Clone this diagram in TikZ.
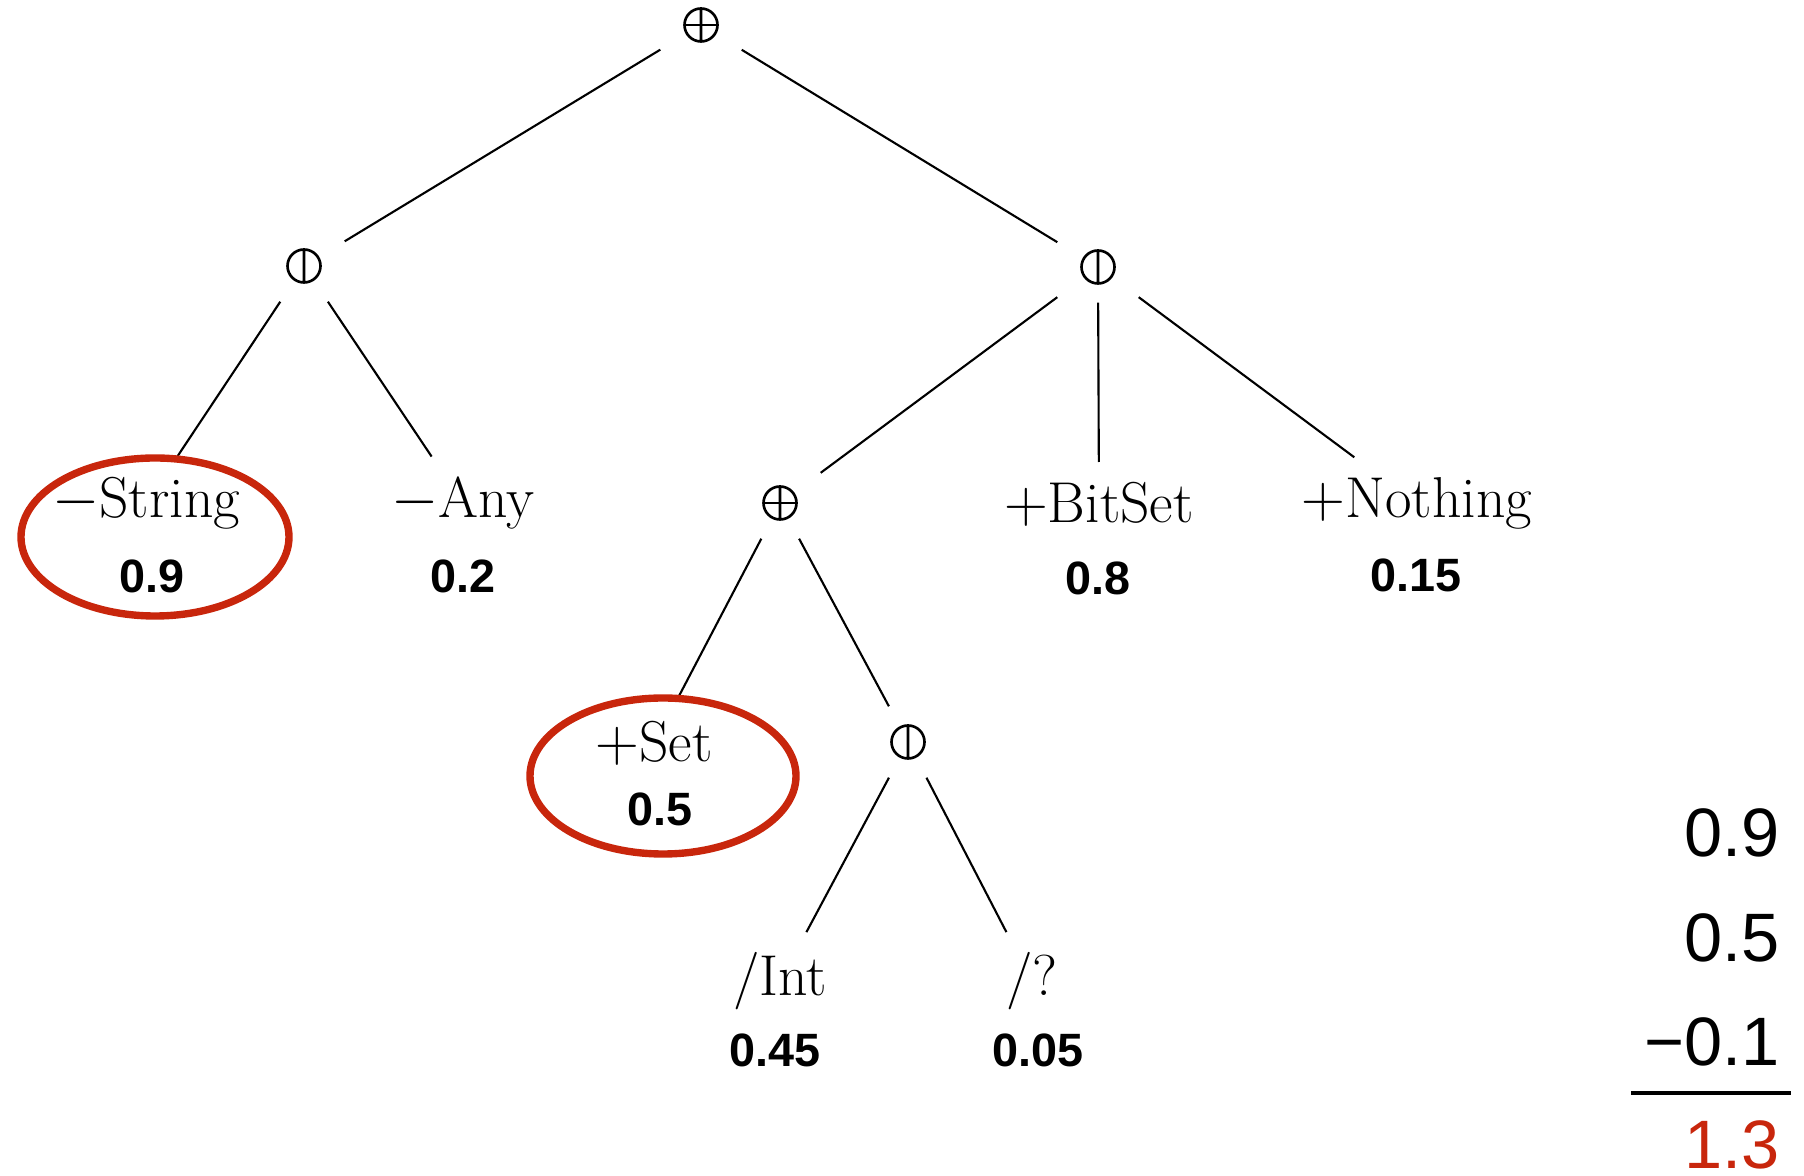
\documentclass[tikz,border=0pt]{standalone}
\usepackage{fontspec}
\usepackage{xcolor}
\usepackage{tikz}
\newfontfamily\valfont{Liberation Sans}
\definecolor{pickred}{RGB}{200,38,12}

\tikzset{
  branch/.style={line width=0.6pt},
  opbox/.style={minimum width=0.8cm,minimum height=0.7cm,inner sep=0pt,
    path picture={
      \coordinate (pp) at (path picture bounding box.center);
      \draw[line width=0.75pt] (pp) circle (0.165cm) (pp) ++(0,0.165) -- ++(0,-0.33);
      #1}},
  oplus/.style={opbox={\draw[line width=0.75pt] (pp) ++(-0.165,0) -- ++(0.33,0);}},
  obar/.style={opbox={}},
  leaf/.style={font=\fontsize{16.4}{19}\selectfont,inner xsep=0.12cm,inner ysep=0.2cm,anchor=base},
  score/.style={font=\valfont\bfseries\fontsize{13.3}{16}\selectfont,anchor=base},
  sumnum/.style={font=\valfont\fontsize{19.5}{23}\selectfont,inner ysep=0pt,anchor=base east},
  pick/.style={draw=pickred,line width=2.1pt}
}

\begin{document}
\begin{tikzpicture}
    \useasboundingbox (0,0) rectangle (18.04,-11.76);

    % operators
    \node[oplus] (root) at (7.01,-0.25) {};
    \node[obar] (lbar) at (3.04,-2.66) {};
    \node[obar] (rbar) at (10.98,-2.67) {};
    \node[oplus] (mplus) at (7.80,-5.03) {};
    \node[obar] (lowbar) at (9.08,-7.42) {};

    % leaves and their weights
    \node[leaf] (str) at (1.46,-5.18) {$-$String};
    \node[score] (str-v) at (1.52,-5.93) {0.9};
    \node[leaf] (any) at (4.63,-5.18) {$-$Any};
    \node[score] (any-v) at (4.63,-5.93) {0.2};
    \node[leaf] (bitset) at (10.99,-5.23) {$+$BitSet};
    \node[score] (bitset-v) at (10.98,-5.95) {0.8};
    \node[leaf] (nothing) at (14.17,-5.18) {$+$Nothing};
    \node[score] (nothing-v) at (14.16,-5.92) {0.15};
    \node[leaf] (set) at (6.54,-7.62) {$+$Set};
    \node[score] (set-v) at (6.60,-8.26) {0.5};
    \node[leaf] (int) at (7.80,-9.96) {/Int};
    \node[score] (int-v) at (7.75,-10.67) {0.45};
    \node[leaf] (unk) at (10.32,-9.96) {/?};
    \node[score] (unk-v) at (10.38,-10.67) {0.05};

    \draw[branch] (root) -- (lbar);
    \draw[branch] (root) -- (rbar);
    \draw[branch] (lbar) -- (str);
    \draw[branch] (lbar) -- (any);
    \draw[branch] (rbar) -- (mplus);
    \draw[branch] (rbar) -- (bitset);
    \draw[branch] (rbar) -- (nothing);
    \draw[branch] (mplus) -- (set);
    \draw[branch] (mplus) -- (lowbar);
    \draw[branch] (lowbar) -- (int);
    \draw[branch] (lowbar) -- (unk);

    % picked leaves
    \draw[pick] (1.55,-5.37) ellipse (1.34cm and 0.79cm);
    \draw[pick] (6.63,-7.76) ellipse (1.33cm and 0.78cm);

    % sum
    \node[sumnum] (s1) at (17.92,-8.57) {0.9};
    \node[sumnum] (s2) at (17.92,-9.62) {0.5};
    \node[sumnum] (s3) at (17.92,-10.66) {−0.1};
    \draw[line width=1.1pt] (16.31,-10.93) -- (17.91,-10.93);
    \node[sumnum,text=pickred] (total) at (17.92,-11.68) {1.3};
\end{tikzpicture}
\end{document}
